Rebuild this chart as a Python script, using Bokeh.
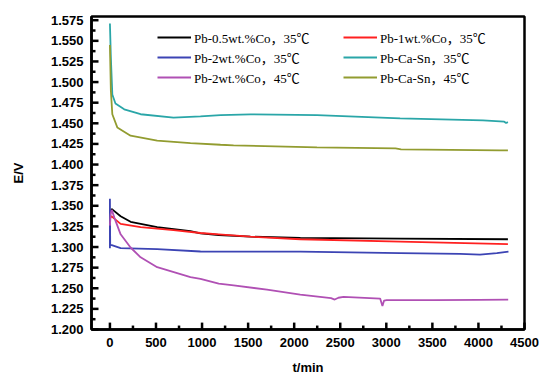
from bokeh.plotting import figure
from bokeh.models import Range1d, FixedTicker, PrintfTickFormatter, Legend, LegendItem
from bokeh.embed import file_html
from bokeh.resources import INLINE

# ---- data ----
t_co05_35 = [0, 18, 116, 224, 513, 874, 983, 1181, 1525, 2067, 3150, 4320]
e_co05_35 = [1.340, 1.3462, 1.3374, 1.3306, 1.3242, 1.3194, 1.3166, 1.3146, 1.3126, 1.3110, 1.3102, 1.3094]

t_co1_35 = [0, 15, 116, 333, 690, 983, 1181, 1525, 2067, 3150, 4320]
e_co1_35 = [1.3345, 1.3374, 1.3280, 1.3242, 1.3206, 1.3170, 1.3154, 1.3126, 1.3094, 1.3066, 1.3034]

t_co2_35 = [0, 0, 3, 20, 116, 513, 983, 1181, 2067, 3150, 3800, 4017, 4200, 4326]
e_co2_35 = [1.2986, 1.3585, 1.3025, 1.3022, 1.2986, 1.2974, 1.2946, 1.2943, 1.2943, 1.2926, 1.2918, 1.2907, 1.2925, 1.2943]

t_cas_35 = [0, 10, 26, 60, 155, 333, 690, 983, 1200, 1525, 2247, 3150, 4050, 4280, 4300, 4320]
e_cas_35 = [1.571, 1.530, 1.485, 1.474, 1.467, 1.461, 1.457, 1.4584, 1.4600, 1.4608, 1.4600, 1.4560, 1.4536, 1.4520, 1.4504, 1.4515]

t_co2_45 = [0, 8, 20, 50, 116, 224, 333, 513, 874, 983, 1181, 1343, 1705, 2066, 2400, 2440, 2480,
            2536, 2933, 2958, 2975, 3005, 3510, 4000, 4323]
e_co2_45 = [1.326, 1.340, 1.345, 1.335, 1.3154, 1.2994, 1.2875, 1.2755, 1.2635, 1.2615, 1.2555, 1.2535,
            1.2483, 1.2423, 1.2380, 1.2363, 1.2385, 1.2395, 1.2375, 1.2284, 1.2350, 1.2356, 1.2356,
            1.2360, 1.2363]

t_cas_45 = [0, 10, 26, 80, 224, 513, 874, 1200, 1342, 2247, 3100, 3160, 4233, 4320]
e_cas_45 = [1.545, 1.490, 1.461, 1.445, 1.435, 1.429, 1.426, 1.424, 1.4232, 1.4208, 1.4195, 1.4185, 1.4172, 1.4172]

labels = ["Pb-0.5wt.%Co，35℃", "Pb-1wt.%Co，35℃", "Pb-2wt.%Co，35℃",
          "Pb-Ca-Sn，35℃", "Pb-2wt.%Co，45℃", "Pb-Ca-Sn，45℃"]
colors = ["#000000", "#ff2020", "#3c44b4", "#2aa6a8", "#b050b4", "#929c30"]

# tick values
x_major = [0, 500, 1000, 1500, 2000, 2500, 3000, 3500, 4000, 4500]
x_minor = [250, 750, 1250, 1750, 2250, 2750, 3250, 3750, 4250]
y_major = [round(1.200 + 0.025 * i, 3) for i in range(16)]
y_minor = [round(1.2125 + 0.025 * i, 4) for i in range(15)]

X_MIN, X_MAX, Y_MIN, Y_MAX = -200, 4500, 1.200, 1.5795
W, H = 539, 377
BL, BR, BT, BB = 91, 15, 16, 44

series = [(t_co05_35, e_co05_35), (t_co1_35, e_co1_35), (t_co2_35, e_co2_35),
          (t_cas_35, e_cas_35), (t_co2_45, e_co2_45), (t_cas_45, e_cas_45)]

p = figure(width=W, height=H, output_backend="svg", toolbar_location=None,
           x_range=Range1d(X_MIN, X_MAX), y_range=Range1d(Y_MIN, Y_MAX),
           min_border_left=BL, min_border_right=BR, min_border_top=BT, min_border_bottom=BB)
p.xgrid.visible = False
p.ygrid.visible = False
p.outline_line_color = "black"
p.outline_line_width = 2.5
p.background_fill_color = "white"
p.border_fill_color = "white"

renderers = []
for (tt, ee), c in zip(series, colors):
    r = p.line(tt, ee, line_color=c, line_width=1.8)
    renderers.append(r)

# inward tick marks (lengths converted from pixels via the frame scale)
ux = (X_MAX - X_MIN) / (W - BL - BR)   # data units per pixel, x
uy = (Y_MAX - Y_MIN) / (H - BT - BB)   # data units per pixel, y
MAJ, MIN_ = 7, 4
for xs, ln in ((x_major, MAJ), (x_minor, MIN_)):
    p.segment(x0=xs, y0=[Y_MIN] * len(xs), x1=xs, y1=[Y_MIN + ln * uy] * len(xs),
              line_color="black", line_width=2.5, level="overlay")
for ys, ln in ((y_major, MAJ), (y_minor, MIN_)):
    p.segment(x0=[X_MIN] * len(ys), y0=ys, x1=[X_MIN + ln * ux] * len(ys), y1=ys,
              line_color="black", line_width=2.5, level="overlay")

p.xaxis.ticker = FixedTicker(ticks=x_major, minor_ticks=x_minor)
p.yaxis.ticker = FixedTicker(ticks=y_major, minor_ticks=y_minor)
p.yaxis.formatter = PrintfTickFormatter(format="%.3f")

for ax in (p.xaxis[0], p.yaxis[0]):
    ax.axis_line_width = 2.5
    ax.axis_line_color = "black"
    ax.major_tick_in = 0
    ax.major_tick_out = 0
    ax.minor_tick_in = 0
    ax.minor_tick_out = 0
    ax.major_label_text_font = "Liberation Sans"
    ax.major_label_text_font_style = "bold"
    ax.major_label_text_font_size = "13px"
    ax.major_label_text_color = "black"
    ax.axis_label_text_font = "Liberation Sans"
    ax.axis_label_text_font_style = "bold"
    ax.axis_label_text_font_size = "13px"
    ax.axis_label_text_color = "black"

p.xaxis.axis_label = "t/min"
p.yaxis.axis_label = "E/V"
p.xaxis.major_label_standoff = 8
p.yaxis.major_label_standoff = 8
p.xaxis.axis_label_standoff = 10
p.yaxis.axis_label_standoff = 22

col1 = [0, 2, 4]
col2 = [1, 3, 5]
for idx, xloc in ((col1, 66), (col2, 252)):
    leg = Legend(items=[LegendItem(label=labels[i], renderers=[renderers[i]]) for i in idx],
                 location=(xloc, 242), orientation="vertical",
                 border_line_color=None, background_fill_alpha=0,
                 label_text_font="'Liberation Serif', 'Noto Sans CJK SC'", label_text_font_size="13px",
                 label_text_color="black",
                 glyph_width=34, glyph_height=20, label_height=20, label_standoff=3,
                 spacing=0, padding=0, margin=0)
    p.add_layout(leg, "center")

open("out.html", "w").write(file_html(p, INLINE))
